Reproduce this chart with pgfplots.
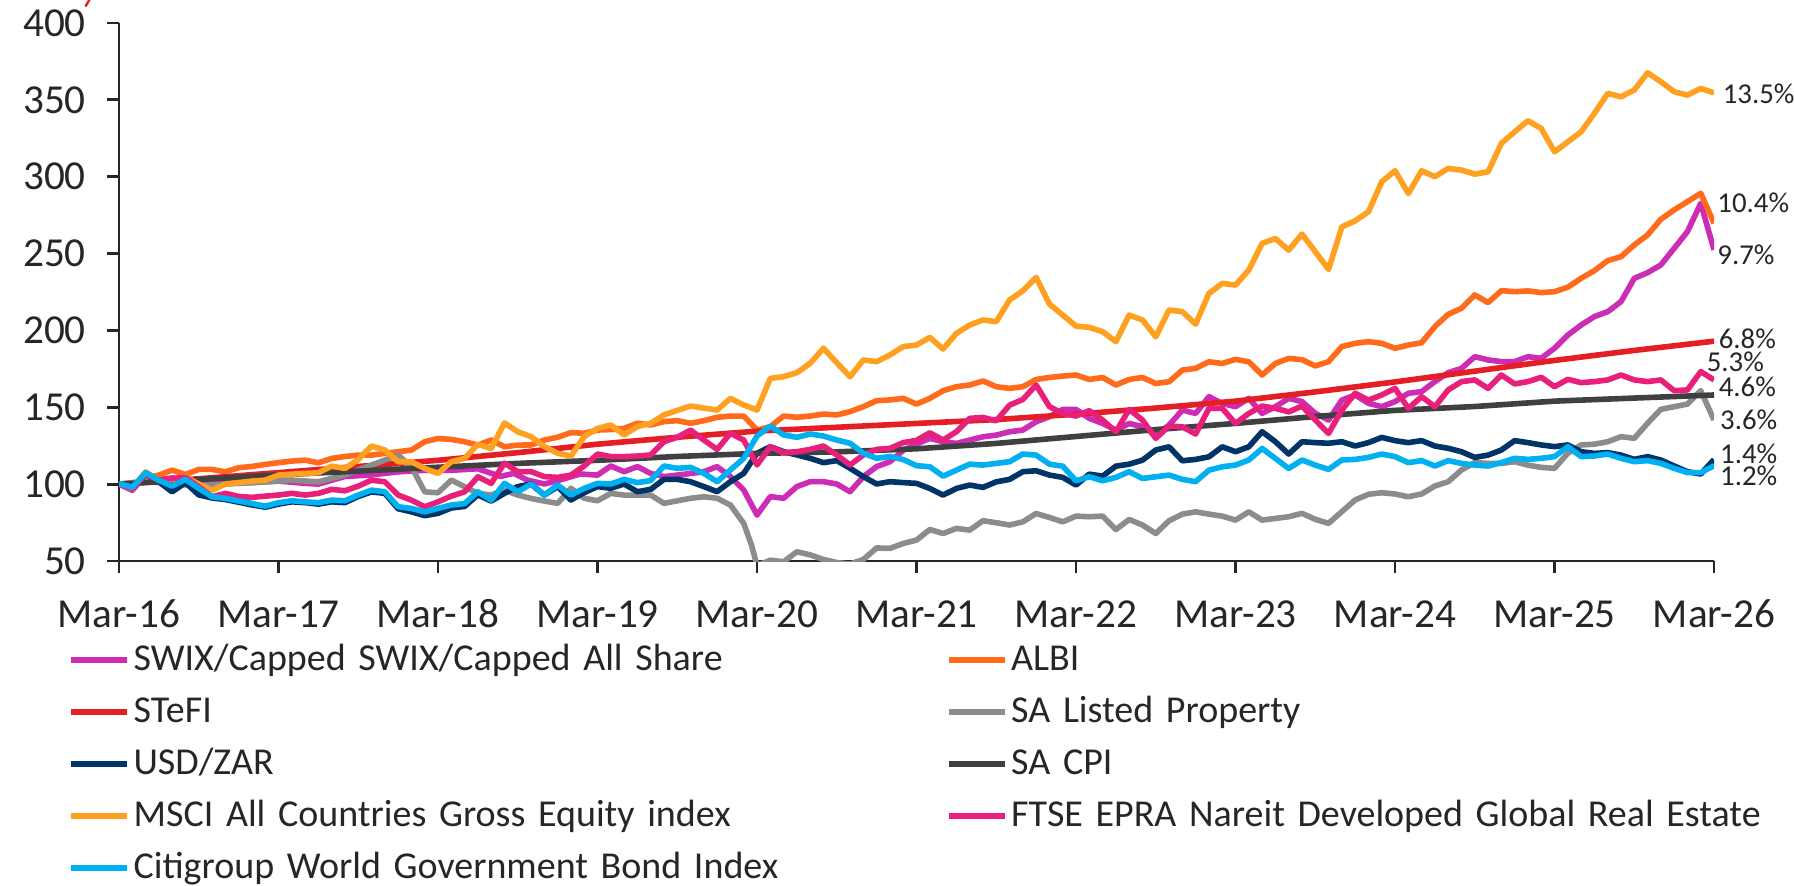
\documentclass[border=0pt]{standalone}
\usepackage{fontspec}
\setmainfont{Carlito}
\usepackage{pgfplots}
\pgfplotsset{compat=1.18}
\definecolor{cSWIX}{RGB}{204,45,180}
\definecolor{cALBI}{RGB}{255,107,26}
\definecolor{cSTEFI}{RGB}{227,30,36}
\definecolor{cPROP}{RGB}{140,140,140}
\definecolor{cUSD}{RGB}{0,51,102}
\definecolor{cCPI}{RGB}{64,64,64}
\definecolor{cMSCI}{RGB}{255,160,32}
\definecolor{cFTSE}{RGB}{233,32,123}
\definecolor{cCITI}{RGB}{0,176,240}
\definecolor{txt}{RGB}{38,38,38}
\begin{document}
\begin{tikzpicture}
\useasboundingbox (-29.75pt,-81.25pt) rectangle (418.75pt,140.25pt);
\begin{axis}[
  scale only axis, width=398.75pt, height=134.5pt,
  xmin=0, xmax=120, ymin=50, ymax=400,
  xtick={0,12,...,120},
  xticklabels={Mar-16,Mar-17,Mar-18,Mar-19,Mar-20,Mar-21,Mar-22,Mar-23,Mar-24,Mar-25,Mar-26},
  ytick={50,100,...,400},
  axis lines=left, axis line style={-, line width=0.7pt, color=txt},
  tick align=outside, major tick length=3pt,
  tick style={line width=0.7pt, color=txt},
  /pgf/number format/assume math mode=true,
  ticklabel style={font=\fontsize{10.3}{12}\selectfont, text=txt, inner sep=0pt},
  xticklabel style={anchor=base, yshift=-13.6pt},
  yticklabel style={anchor=east, xshift=-5.1pt},
  clip mode=individual,
  every axis plot/.append style={line width=1.4pt, line join=round, no markers},
  legend columns=2,
  legend cell align=left,
  legend image code/.code={\draw[#1, line width=1.6pt] (0pt,0pt) -- (14pt,0pt);},
  legend style={at={(axis description cs:0,0)}, anchor=north west, xshift=-12.75pt, yshift=-20.25pt,
    draw=none, fill=none, inner sep=0pt, outer sep=0pt, row sep=4pt,
    font=\fontsize{9.5}{11}\selectfont, text=txt,
    nodes={inner sep=0pt, text height=7pt, text depth=2pt},
    /tikz/every odd column/.append style={column sep=0.8pt},
    /tikz/every even column/.append style={column sep=3pt, text width=200pt}},
]
% SWIX
\addplot[color=cSWIX] table {
0 100
1 96
2 106
3 103
4 104
5 103
6 102
8 101
10 101
12 102
14 100.5
15 100
17 105
19 106
21 108
23 109
25 109
27 110
28.7 105
29.7 107
30.7 102.7
32 100.1
33 102.3
34.7 106.6
36 105.9
37 111.8
38 108.1
39 111.4
40 107
41 104.9
42.7 106.6
44 108.1
45 111.4
46 104.9
47 96.2
48 79.9
49 91.9
50 90.8
51 98.4
52 101.6
53 101.6
54 100.1
55 95.1
56 104.9
57 111.4
58 114.6
59 122
60 126
61 129.8
62 127.6
63 126.5
64 128.7
65 130.8
66 131.9
67 134.1
68 135.2
69 140.6
70 143.9
71 148.6
72 148.6
73 142.8
74 139.5
75 135.2
76 139.5
77 137.4
78 131.9
79 138.4
80 148.2
81 146
82 156.9
83 152.5
84 150.4
85 155.8
86 146
87 150.4
88 155.8
89 153.7
90 146.1
91 141.7
92 154.7
93 158
94 152.6
95 150.4
96 153.7
97 159.1
98 160.2
99 166.7
100 172.5
101 175.3
102 182.9
103 180.8
104 179.7
105 179.7
106 182.9
107 181.9
108 188.4
109 197
110 203.5
111 209
112 212.2
113 218.7
114 233.9
115 237.6
116 242.6
117 253.4
118 264.3
119 282.7
120 252.4
};
\addlegendentry{SWIX/Capped SWIX/Capped All Share}
% ALBI
\addplot[color=cALBI] table {
0 100
1 98
2 104
3 105.9
4 109.1
5 106.3
6 109.6
7 109.6
8 108
9 110.7
10 111.5
11 112.8
12 114
13 115
14 115.6
15 113.9
16 116.7
17 118
18 118.9
19 118.9
20 120
21 121.1
22 122.2
23 127.6
24 129.7
25 129.1
26 127.6
27 125.4
28 128.7
29 124.3
30 125.4
31 125.5
32 128.7
33 130.5
34 133.5
35 133.1
36 135.2
37 135.5
38 136.3
39 139.6
40 138.5
41 140.7
42 141.3
43 139.6
44 141.3
45 143.5
46 144.3
47 144.3
48 135.2
49 137.4
50 144.3
51 143.5
52 144.3
53 145.6
54 145
55 147.2
56 150.4
57 154.3
58 154.8
59 155.8
60 152.1
61 155.8
62 160.8
63 163.4
64 164.5
65 167.1
66 163.4
67 162.3
68 163.4
69 168.1
70 169.4
71 170.3
72 171
73 168.1
74 169.4
75 164.5
76 168.1
77 169.4
78 165.5
79 166.6
80 174.2
81 175.3
82 179.6
83 178.5
84 181.2
85 179.6
86 171
87 178.5
88 181.8
89 181
90 176.9
91 179.7
92 189.5
93 191.6
94 192.7
95 191.6
96 188.4
97 190.5
98 192
99 202.5
100 210.5
101 214.4
102 223.1
103 218.1
104 225.9
105 225.2
106 225.7
107 224.6
108 225.2
109 228.1
110 233.9
111 238.9
112 245.4
113 248
114 255.6
115 262.1
116 272.3
117 278.4
118 283.8
119 289.2
120 269.7
};
\addlegendentry{ALBI}
% STeFI
\addplot[color=cSTEFI] table {
0 100
6 103.5
12 107.5
18 111.5
24 115.5
30 120.5
36 126
42 130.5
48 134.5
54 137
60 139.5
66 142
72 145.5
78 149.5
84 154
90 160
96 166.5
102 173.5
108 180.5
114 187
120 193
};
\addlegendentry{STeFI}
% SA Listed Property
\addplot[color=cPROP] table {
0 100
2 102
4 100
6 99
8 100
10 101
12 102
13 102.6
15 101.5
17 106
19 112.4
21 118.9
22 111.3
23 95
24 94.4
25 102.6
26 98.3
27 94
28 92.9
29 96.1
30 92.9
31 90.7
32 89
33 87.5
34 97.3
35 90.8
36 89.2
37 94
38 92.9
40 92.9
41 87.5
43 90.8
44 91.8
45 90.8
46 86.4
47 74.5
47.6 60
48 47
49 50.5
50 49.5
51 56
52 54
53 51
54 49
55 48
56 51
57 58.5
58 58.2
59 61.4
60 63.6
61 70.5
62 67.9
63 71.2
64 70.1
65 76.2
66 74.9
67 73.4
68 75.5
69 80.9
70 78.3
71 75.5
72 79.2
73 78.8
74 79.2
75 70.5
76 77
77 73.4
78 67.9
79 76.2
80 80.5
81 82
82 80.5
83 79.2
84 76.6
85 82
86 76.6
87 77.7
88 78.8
89 81
90 77.1
91 74.5
92 82.1
93 89.7
94 93.4
95 94.4
96 93.6
97 91.8
98 93.6
99 98.8
100 101.6
101 109.2
102 114
103 113.5
104 113.5
105 114.6
106 112.4
107 110.9
108 110.3
109 120.1
110 125.5
111 126
112 127.6
113 130.9
114 129.8
115 139.6
116 148.7
117 150.4
118 152.1
119 160.8
120 141.7
};
\addlegendentry{SA Listed Property}
% USD/ZAR
\addplot[color=cUSD] table {
0 100
1 97
2 106.5
3 101.5
4 95
5 101
6 93
7 91
8 90
10 86.5
11 85
12 87
13 88.5
14 88
15 87
16 88.5
17 88
18 92
19 95
20 94
21 84
22 82
23 79.5
24 81
25 84.5
26 85.5
27 93
28 89
29 94
30 98.4
31 100.1
32 92.9
33 98.4
34 89.7
35 94.5
36 98.4
37 97.3
38 100.1
39 95.1
40 96.6
41 103.1
42 103.1
43 101.6
44 98.4
45 95.1
46 101.6
47 107
48 120.1
49 124.4
50 121.1
51 119
52 116.8
53 114
54 115.3
55 110.3
56 104.9
57 100.1
58 101.6
59 101
60 100.5
61 97.2
62 92.9
63 97.2
64 99.4
65 97.9
66 101.5
67 103.1
68 108.1
69 108.7
70 105.9
71 104.4
72 99.4
73 106.5
74 105.2
75 111.7
76 113
77 115.6
78 122.2
79 124.3
80 115.2
81 116.1
82 117.8
83 124.3
84 121.1
85 124.3
86 134.1
87 127.6
88 119.6
89 127.6
90 127
91 126.6
92 127.6
93 124.8
94 127
95 130.4
96 128.3
97 127
98 128.3
99 124.8
100 123.3
101 121.1
102 117.4
103 118.9
104 122.2
105 128.3
106 127
107 125.5
108 124.4
109 125.5
110 121.1
111 120
112 120.5
113 118.9
114 116.1
115 117.9
116 115.7
117 111.8
118 108.1
119 106.6
120 116
};
\addlegendentry{USD/ZAR}
% SA CPI
\addplot[color=cCPI] table {
0 100
6 103
12 106
18 108.5
24 111
30 113.5
36 115.5
42 118
48 120
54 121
60 123
66 126.5
72 131
78 135.5
84 139.5
90 144
96 148
102 150.5
108 154
114 156
120 158
};
\addlegendentry{SA CPI}
% MSCI
\addplot[color=cMSCI] table {
0 100
1 97
2 108
3 102.6
4 103
5 104.8
6 100
7 96.1
8 100
9 101
10 102
11 102.6
12 105.9
13 106.5
14 107
15 107.4
16 111.7
17 110.2
18 116
19 124.8
20 122.2
21 114.6
22 114.6
23 110.2
24 107
25 114.6
26 116.7
27 126
28 123.2
29 139.8
30 134.1
31 130.9
32 124.4
33 120.1
34 118.3
35 130.9
36 136.3
37 138.5
38 132
39 137.4
40 139.6
41 145
42 148
43 150.8
44 149.5
45 148.2
46 155.8
47 151.5
48 148.2
49 168.8
50 169.9
51 172.5
52 178.6
53 188.4
54 179
55 169.9
56 180.8
57 179.7
58 184
59 189.5
60 190.5
61 195.5
62 187.9
63 198.1
64 203.5
65 206.8
66 205.7
67 219.8
68 225.8
69 234.5
70 217.2
71 210
72 202.8
73 202
74 199.2
75 192.7
76 210
77 206.8
78 195.9
79 213.3
80 212.2
81 204.1
82 224.1
83 230.6
84 229.5
85 239.3
86 256.6
87 259.8
88 252.2
89 262.7
90 251.2
91 239.7
92 267.4
93 271.3
94 277.2
95 296.7
96 303.9
97 289.1
98 303.9
99 300
100 305.4
101 304.3
102 301.7
103 303.2
104 321.7
105 329.2
106 336.4
107 331.4
108 316.2
109 322.7
110 329.2
111 341.2
112 354.2
113 352
114 356.4
115 367.6
116 361.8
117 355.3
118 353.1
119 357.4
120 354.6
};
\addlegendentry{MSCI All Countries Gross Equity index}
% FTSE EPRA Nareit
\addplot[color=cFTSE] table {
0 100
1 97.2
2 106.5
3 102.6
4 103.7
5 104.4
6 98.3
7 91.8
8 94
9 92
10 91.4
11 92.2
12 92.9
13 94
14 92.9
15 94
16 96.6
17 95.7
18 98.7
19 102.6
20 101.5
21 92.9
22 89.6
23 85.3
24 88.5
25 92.2
26 95
27 104.8
28 100.5
29 113.7
30 108.1
31 108.1
32 104.9
33 104.4
34 105.9
35 111.8
36 119.6
37 117.9
38 117.9
39 118.3
40 119
41 127.6
42 130.5
43 135.2
44 128.7
45 122.6
46 133.1
47 128.7
48 112.5
49 124.4
50 120.5
51 121.1
52 122.6
53 124.8
54 119
55 112.5
56 119
57 122.6
58 123.3
59 127
60 128.5
61 133.4
62 128.7
63 134.1
64 142.8
65 143.4
66 141.2
67 151.4
68 155.1
69 164.5
70 150.4
71 146
72 144.3
73 147.8
74 141.7
75 134.1
76 148.6
77 141.7
78 129.8
79 137.8
80 137.3
81 132.6
82 149.3
83 149.3
84 139.5
85 146
86 150.8
87 149.3
88 147
89 150.8
90 141.7
91 133
92 148.2
93 159.1
94 154.7
95 158
96 162.3
97 149.3
98 156.9
99 150.4
100 161.3
101 166.7
102 167.8
103 162.3
104 171
105 165.2
106 166.7
107 169.5
108 163.4
109 168.2
110 166
111 166.7
112 167.8
113 171
114 167.8
115 166.7
116 167.8
117 160.8
118 161.3
119 173.2
120 167.8
};
\addlegendentry{FTSE EPRA Nareit Developed Global Real Estate}
% Citigroup WGBI
\addplot[color=cCITI] table {
0 100.5
1 97.9
2 107.4
3 102.6
4 98.7
5 103.1
6 97.2
7 91.8
8 90.7
10 87.4
11 85.7
12 87.9
13 89.2
14 88.5
15 87.9
16 89.6
17 89.2
18 92.9
19 96.1
20 95
21 85.3
22 84.2
23 82
24 84.2
25 86.4
26 87.4
27 95
28 89.6
29 100.5
30 95.1
31 100.1
32 92.9
33 99.4
34 92.9
35 97.3
36 100.5
37 100.1
38 103.1
39 101
40 102.3
41 111.8
42 110.3
43 110.9
44 107
45 101.6
46 109.2
47 116.8
48 131.3
49 137.8
50 132
51 130.5
52 132.6
53 131.3
54 128.7
55 126.6
56 120.1
57 116.8
58 118
59 116
60 112
61 111.3
62 105.2
63 109.1
64 113
65 112.4
66 113.5
67 114.6
68 119.6
69 118.9
70 113
71 111.7
72 102.2
73 104.8
74 102.2
75 104.4
76 108.1
77 103.7
78 104.8
79 105.9
80 103.1
81 101.6
82 109.1
83 111.3
84 112.4
85 115.7
86 123.2
87 116.7
88 110.2
89 115.7
90 112.4
91 109.6
92 115.7
93 116.1
94 117.4
95 119.6
96 117.9
97 114
98 115.3
99 111.8
100 115.3
101 113.5
102 112.4
103 111.8
104 114
105 116.8
106 116.1
107 116.8
108 117.9
109 124.4
110 117.9
111 118.3
112 119.6
113 116.8
114 114.6
115 115.3
116 113.5
117 110.3
118 107.5
119 107.5
120 112
};
\addlegendentry{Citigroup World Government Bond Index}
% end labels
\begin{scope}[every node/.style={anchor=west, inner sep=0pt, font=\fontsize{7.2}{8}\selectfont, text=txt}]
\node at (axis cs:120.6,353.8) {13.5\%};
\node at (axis cs:120.2,282.9) {10.4\%};
\node at (axis cs:120.2,249) {9.7\%};
\node at (axis cs:120.3,194.3) {6.8\%};
\node at (axis cs:119.4,179.3) {5.3\%};
\node at (axis cs:120.3,163.2) {4.6\%};
\node at (axis cs:120.4,141.7) {3.6\%};
\node at (axis cs:120.4,119.5) {1.4\%};
\node at (axis cs:120.4,105.4) {1.2\%};
\end{scope}
\end{axis}
\draw[color=cSTEFI, line width=0.6pt] (-8.4pt,138.6pt) -- (-7pt,141pt);
\end{tikzpicture}
\end{document}
